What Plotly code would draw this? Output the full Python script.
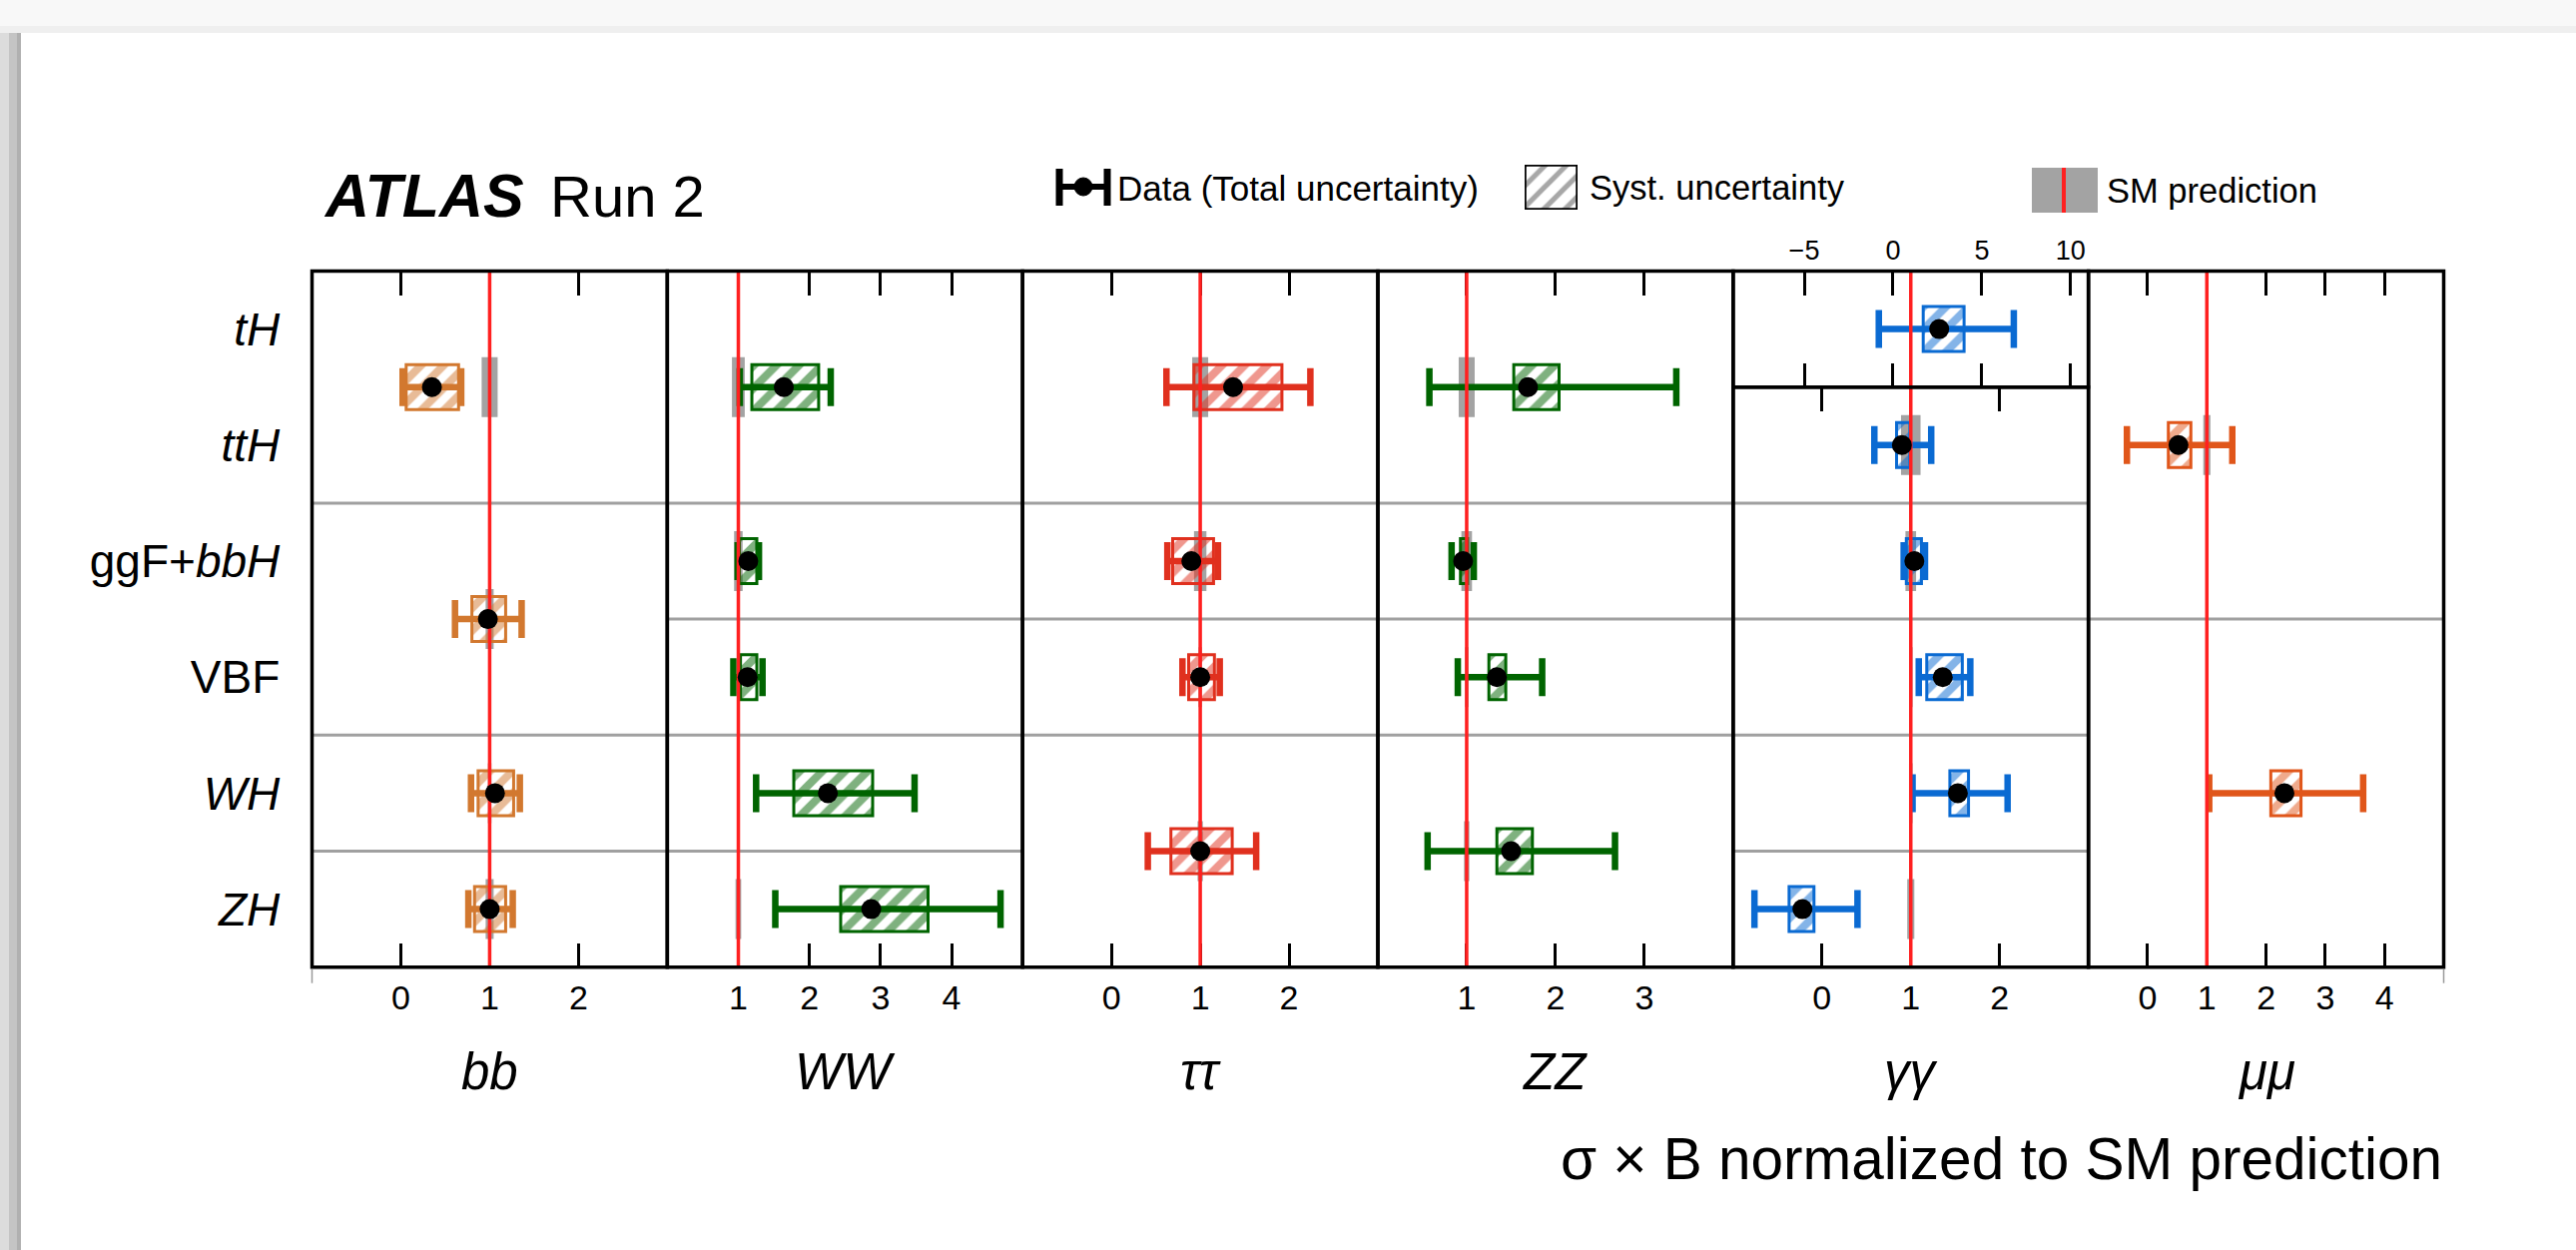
import plotly.graph_objects as go

W, H = 2580, 1252
FONT = "Liberation Sans, Arial, Helvetica, sans-serif"

# ---------------- data ----------------
rows = ["tH", "ttH", "ggF+bbH", "VBF", "WH", "ZH"]
row_labels = ["<i>tH</i>", "<i>ttH</i>", "ggF+<i>bbH</i>", "VBF", "<i>WH</i>", "<i>ZH</i>"]

decays = ["bb", "WW", "tautau", "ZZ", "gamgam", "mumu"]
decay_labels = ["<i>bb</i>", "<i>WW</i>", "<i>ττ</i>", "<i>ZZ</i>", "<i>γγ</i>", "<i>μμ</i>"]
x_ranges = [[-1, 3], [0, 5], [-1, 3], [0, 4], [-1, 3], [-1, 5]]
x_tickvals = [[0, 1, 2], [1, 2, 3, 4], [0, 1, 2], [1, 2, 3], [0, 1, 2], [0, 1, 2, 3, 4]]
decay_colors = ["#d2782f", "#006400", "#e0301e", "#006400", "#0a6ad2", "#e0561a"]

# gamma-gamma tH sub-panel axis
gg_tH_range = [-9, 11]
gg_tH_tickvals = [-5, 0, 5, 10]

bb_groups = [["tH", "ttH"], ["ggF+bbH", "VBF"], ["WH"], ["ZH"]]
bb_mu = [0.35, 0.98, 1.06, 1.00]
bb_tot_lo = [0.02, 0.61, 0.79, 0.76]
bb_tot_hi = [0.68, 1.36, 1.34, 1.26]
bb_sys_lo = [0.06, 0.80, 0.87, 0.83]
bb_sys_hi = [0.65, 1.18, 1.27, 1.18]
bb_sm_unc = [0.09, 0.045, 0.02, 0.045]

WW_groups = [["tH", "ttH"], ["ggF+bbH"], ["VBF"], ["WH"], ["ZH"]]
WW_mu = [1.64, 1.14, 1.13, 2.26, 2.87]
WW_tot_lo = [1.02, 0.99, 0.93, 1.25, 1.52]
WW_tot_hi = [2.30, 1.29, 1.34, 3.48, 4.69]
WW_sys_lo = [1.19, 1.01, 1.03, 1.78, 2.44]
WW_sys_hi = [2.13, 1.26, 1.26, 2.89, 3.67]
WW_sm_unc = [0.09, 0.06, 0.02, 0.02, 0.04]

tautau_groups = [["tH", "ttH"], ["ggF+bbH"], ["VBF"], ["WH", "ZH"]]
tautau_mu = [1.37, 0.90, 1.00, 1.00]
tautau_tot_lo = [0.62, 0.63, 0.80, 0.41]
tautau_tot_hi = [2.24, 1.20, 1.22, 1.63]
tautau_sys_lo = [0.93, 0.69, 0.87, 0.67]
tautau_sys_hi = [1.92, 1.15, 1.16, 1.36]
tautau_sm_unc = [0.09, 0.07, 0.02, 0.03]

ZZ_groups = [["tH", "ttH"], ["ggF+bbH"], ["VBF"], ["WH", "ZH"]]
ZZ_mu = [1.69, 0.96, 1.34, 1.50]
ZZ_tot_lo = [0.58, 0.83, 0.90, 0.56]
ZZ_tot_hi = [3.36, 1.08, 1.85, 2.67]
ZZ_sys_lo = [1.53, 0.93, 1.25, 1.34]
ZZ_sys_hi = [2.04, 1.01, 1.44, 1.74]
ZZ_sm_unc = [0.09, 0.06, 0.02, 0.03]

gamgam_groups = [["tH"], ["ttH"], ["ggF+bbH"], ["VBF"], ["WH"], ["ZH"]]
gamgam_mu = [2.6, 0.90, 1.04, 1.36, 1.53, -0.22]
gamgam_tot_lo = [-0.8, 0.59, 0.92, 1.09, 1.02, -0.76]
gamgam_tot_hi = [6.8, 1.23, 1.16, 1.67, 2.09, 0.40]
gamgam_sys_lo = [1.7, 0.84, 0.95, 1.18, 1.44, -0.37]
gamgam_sys_hi = [4.0, 0.99, 1.12, 1.58, 1.65, -0.09]
gamgam_sm_unc = [0.0, 0.11, 0.06, 0.02, 0.02, 0.04]

mumu_groups = [["tH", "ttH", "ggF+bbH"], ["VBF", "WH", "ZH"]]
mumu_mu = [0.52, 2.31]
mumu_tot_lo = [-0.35, 1.04]
mumu_tot_hi = [1.43, 3.64]
mumu_sys_lo = [0.35, 2.08]
mumu_sys_hi = [0.73, 2.59]
mumu_sm_unc = [0.06, 0.02]

measurements = {
    "bb": (bb_groups, bb_mu, bb_tot_lo, bb_tot_hi, bb_sys_lo, bb_sys_hi, bb_sm_unc),
    "WW": (WW_groups, WW_mu, WW_tot_lo, WW_tot_hi, WW_sys_lo, WW_sys_hi, WW_sm_unc),
    "tautau": (tautau_groups, tautau_mu, tautau_tot_lo, tautau_tot_hi, tautau_sys_lo, tautau_sys_hi, tautau_sm_unc),
    "ZZ": (ZZ_groups, ZZ_mu, ZZ_tot_lo, ZZ_tot_hi, ZZ_sys_lo, ZZ_sys_hi, ZZ_sm_unc),
    "gamgam": (gamgam_groups, gamgam_mu, gamgam_tot_lo, gamgam_tot_hi, gamgam_sys_lo, gamgam_sys_hi, gamgam_sm_unc),
    "mumu": (mumu_groups, mumu_mu, mumu_tot_lo, mumu_tot_hi, mumu_sys_lo, mumu_sys_hi, mumu_sm_unc),
}

# ---------------- geometry (pixels) ----------------
PL, PR, PT, PB = 312.5, 2447.5, 271.5, 968.7
RH = (PB - PT) / 6.0
edges = [PL + i * (PR - PL) / 6.0 for i in range(7)]


def X(px):
    return px / W


def Y(py):
    return 1 - py / H


row_pos = {r: 5 - i for i, r in enumerate(rows)}
xa_names = ["x", "x2", "x3", "x4", "x5", "x6"]
ya_names = ["y", "y", "y", "y", "y5", "y"]

BOX_H = 45 / RH
SM_H = 60 / RH
RED = "#ff2020"
GREY = "#a3a3a3"

grey_traces, box_traces, err_traces, red_traces, dot_traces = [], [], [], [], []
shapes = []

for i, d in enumerate(decays):
    groups, mu, tlo, thi, slo, shi, smu = measurements[d]
    col = decay_colors[i]
    for g, m, a, b, c, e, u in zip(groups, mu, tlo, thi, slo, shi, smu):
        ypos = sum(row_pos[r] for r in g) / len(g)
        if d == "gamgam" and g == ["tH"]:
            xa, ya = "x7", "y7"
        else:
            xa, ya = xa_names[i], ya_names[i]
        if u > 0:
            grey_traces.append(go.Bar(
                y=[ypos], x=[2 * u], base=[1 - u], orientation="h", width=[SM_H],
                xaxis=xa, yaxis=ya, marker=dict(color=GREY, line=dict(width=0)),
                hoverinfo="skip", showlegend=False))
        box_traces.append(go.Bar(
            y=[ypos], x=[e - c], base=[c], orientation="h", width=[BOX_H],
            xaxis=xa, yaxis=ya,
            marker=dict(color="rgba(0,0,0,0)", line=dict(color=col, width=3),
                        pattern=dict(shape="/", fgcolor=col, bgcolor="rgba(255,255,255,0)",
                                     size=16, solidity=0.5)),
            hoverinfo="skip", showlegend=False))
        err_traces.append(go.Scatter(
            x=[m], y=[ypos], mode="markers", xaxis=xa, yaxis=ya,
            marker=dict(size=2, color="rgba(0,0,0,0)"),
            error_x=dict(type="data", symmetric=False, array=[b - m], arrayminus=[m - a],
                         color=col, thickness=6.5, width=19),
            hoverinfo="skip", showlegend=False))
        dot_traces.append(go.Scatter(
            x=[m], y=[ypos], mode="markers", xaxis=xa, yaxis=ya,
            marker=dict(size=20, color="black"), hoverinfo="skip", showlegend=False))

    # SM reference line at 1
    if d == "gamgam":
        red_traces.append(go.Scatter(x=[1, 1], y=[-0.5, 4.5], xaxis="x5", yaxis="y5", mode="lines",
                                     line=dict(color=RED, width=3.5), hoverinfo="skip", showlegend=False))
        red_traces.append(go.Scatter(x=[1, 1], y=[4.5, 5.5], xaxis="x7", yaxis="y7", mode="lines",
                                     line=dict(color=RED, width=3.5), hoverinfo="skip", showlegend=False))
    else:
        red_traces.append(go.Scatter(x=[1, 1], y=[-0.5, 5.5], xaxis=xa_names[i], yaxis="y", mode="lines",
                                     line=dict(color=RED, width=3.5), hoverinfo="skip", showlegend=False))

    # grey separators between groups
    bottoms = sorted([min(row_pos[r] for r in g) for g in groups], reverse=True)
    for k in range(len(groups) - 1):
        yb = bottoms[k] - 0.5
        if d == "gamgam" and abs(yb - 4.5) < 1e-9:
            continue
        shapes.append(dict(type="line", xref=f"{xa_names[i]} domain", yref="y",
                           x0=0, x1=1, y0=yb, y1=yb, layer="below",
                           line=dict(color="#a0a0a0", width=3)))

# panel borders
for i in range(6):
    if decays[i] == "gamgam":
        shapes.append(dict(type="rect", xref="paper", yref="paper", x0=X(edges[i]), x1=X(edges[i + 1]),
                           y0=Y(PB), y1=Y(PT + RH), line=dict(color="black", width=3.5)))
        shapes.append(dict(type="rect", xref="paper", yref="paper", x0=X(edges[i]), x1=X(edges[i + 1]),
                           y0=Y(PT + RH), y1=Y(PT), line=dict(color="black", width=3.5)))
    else:
        shapes.append(dict(type="rect", xref="paper", yref="paper", x0=X(edges[i]), x1=X(edges[i + 1]),
                           y0=Y(PB), y1=Y(PT), line=dict(color="black", width=3.5)))

# small end ticks under the frame
for px in (PL, PR):
    shapes.append(dict(type="line", xref="paper", yref="paper", x0=X(px), x1=X(px),
                       y0=Y(PB + 2), y1=Y(PB + 16), line=dict(color="#9a9a9a", width=1.5)))

# page shadow (screenshot frame)
shapes += [
    dict(type="rect", xref="paper", yref="paper", x0=0, x1=1, y0=Y(26), y1=1, layer="below",
         fillcolor="#f8f8f8", line=dict(width=0)),
    dict(type="rect", xref="paper", yref="paper", x0=0, x1=1, y0=Y(33), y1=Y(26), layer="below",
         fillcolor="#efefef", line=dict(width=0)),
    dict(type="rect", xref="paper", yref="paper", x0=0, x1=X(9), y0=0, y1=Y(33), layer="below",
         fillcolor="#dcdcdc", line=dict(width=0)),
    dict(type="rect", xref="paper", yref="paper", x0=X(9), x1=X(17), y0=0, y1=Y(33), layer="below",
         fillcolor="#c4c4c4", line=dict(width=0)),
    dict(type="rect", xref="paper", yref="paper", x0=X(17), x1=X(21), y0=0, y1=Y(33), layer="below",
         fillcolor="#b0b0b0", line=dict(width=0)),
]

# legend icons
shapes += [
    dict(type="line", xref="paper", yref="paper", x0=X(1058), x1=X(1112), y0=Y(187), y1=Y(187),
         line=dict(color="black", width=6)),
    dict(type="line", xref="paper", yref="paper", x0=X(1061), x1=X(1061), y0=Y(169), y1=Y(206),
         line=dict(color="black", width=7)),
    dict(type="line", xref="paper", yref="paper", x0=X(1109), x1=X(1109), y0=Y(169), y1=Y(206),
         line=dict(color="black", width=7)),
    dict(type="circle", xref="paper", yref="paper", x0=X(1076), x1=X(1094), y0=Y(196), y1=Y(178),
         fillcolor="black", line=dict(color="black", width=1)),
    dict(type="rect", xref="paper", yref="paper", x0=X(2035), x1=X(2101), y0=Y(213), y1=Y(168),
         fillcolor=GREY, line=dict(width=0)),
    dict(type="line", xref="paper", yref="paper", x0=X(2067), x1=X(2067), y0=Y(213), y1=Y(168),
         line=dict(color=RED, width=4)),
]

legend_box = go.Bar(y=[0], x=[1], base=[0], orientation="h", width=[1], xaxis="x8", yaxis="y8",
                    cliponaxis=False,
                    marker=dict(color="rgba(0,0,0,0)", line=dict(color="black", width=3.5),
                                pattern=dict(shape="/", fgcolor="#505050", bgcolor="white",
                                             size=15, solidity=0.35)),
                    hoverinfo="skip", showlegend=False)

fig = go.Figure(grey_traces + box_traces + [legend_box] + err_traces + red_traces + dot_traces)

layout = dict(
    width=W, height=H, margin=dict(l=0, r=0, t=0, b=0),
    paper_bgcolor="white", plot_bgcolor="rgba(0,0,0,0)",
    barmode="overlay", showlegend=False,
    font=dict(family=FONT, color="black"),
    shapes=shapes,
)

common_x = dict(ticks="inside", ticklen=24, tickwidth=3, tickcolor="black", mirror="ticks",
                showline=True, linecolor="rgba(0,0,0,0)", linewidth=1, showgrid=False, zeroline=False,
                layer="below traces", fixedrange=True)

for i in range(6):
    key = "xaxis" if i == 0 else f"xaxis{i + 1}"
    layout[key] = dict(common_x, domain=[X(edges[i]), X(edges[i + 1])], range=x_ranges[i],
                       anchor=ya_names[i], tickvals=x_tickvals[i],
                       ticktext=[str(v) for v in x_tickvals[i]],
                       tickfont=dict(size=34, family=FONT, color="black"))

layout["xaxis7"] = dict(common_x, domain=[X(edges[4]), X(edges[5])], range=gg_tH_range,
                        anchor="y7", side="top", tickvals=gg_tH_tickvals,
                        tickfont=dict(size=27, family=FONT, color="black"))

layout["yaxis"] = dict(domain=[Y(PB), Y(PT)], range=[-0.5, 5.5], anchor="x",
                       tickvals=[row_pos[r] for r in rows], ticktext=row_labels,
                       ticks="outside", ticklen=22, tickcolor="rgba(0,0,0,0)",
                       showline=False, showgrid=False, zeroline=False, fixedrange=True,
                       tickfont=dict(size=46, family=FONT, color="black"))
layout["yaxis5"] = dict(domain=[Y(PB), Y(PT + RH)], range=[-0.5, 4.5], anchor="x5", visible=False,
                        fixedrange=True)
layout["yaxis7"] = dict(domain=[Y(PT + RH), Y(PT)], range=[4.5, 5.5], anchor="x7", visible=False,
                        fixedrange=True)
layout["xaxis8"] = dict(domain=[X(1527), X(1580)], range=[0, 1], anchor="y8", visible=False, fixedrange=True)
layout["yaxis8"] = dict(domain=[Y(210), Y(165)], range=[-0.5, 0.5], anchor="x8", visible=False, fixedrange=True)

annotations = []
for i in range(6):
    annotations.append(dict(text=decay_labels[i], xref="paper", yref="paper",
                            x=X((edges[i] + edges[i + 1]) / 2), y=Y(1073), xanchor="center", yanchor="middle",
                            showarrow=False, font=dict(size=51, family=FONT, color="black")))
annotations += [
    dict(text="σ × B normalized to SM prediction", xref="paper", yref="paper", x=X(PR), y=Y(1160),
         xanchor="right", yanchor="middle", showarrow=False, font=dict(size=58.5, family=FONT, color="black")),
    dict(text="<b><i>ATLAS</i></b>", xref="paper", yref="paper", x=X(322), y=Y(196),
         xanchor="left", yanchor="middle", showarrow=False, font=dict(size=61, family=FONT, color="black")),
    dict(text="Run 2", xref="paper", yref="paper", x=X(549), y=Y(196),
         xanchor="left", yanchor="middle", showarrow=False, font=dict(size=58, family=FONT, color="black")),
    dict(text="Data (Total uncertainty)", xref="paper", yref="paper", x=X(1117), y=Y(188),
         xanchor="left", yanchor="middle", showarrow=False, font=dict(size=35, family=FONT, color="black")),
    dict(text="Syst. uncertainty", xref="paper", yref="paper", x=X(1590), y=Y(188),
         xanchor="left", yanchor="middle", showarrow=False, font=dict(size=34.5, family=FONT, color="black")),
    dict(text="SM prediction", xref="paper", yref="paper", x=X(2108), y=Y(191),
         xanchor="left", yanchor="middle", showarrow=False, font=dict(size=34.5, family=FONT, color="black")),
]
layout["annotations"] = annotations

fig.update_layout(**layout)
fig.write_html("out.html", config={"displayModeBar": False},
               post_script="document.body.style.margin='0px';document.body.style.padding='0px';")
